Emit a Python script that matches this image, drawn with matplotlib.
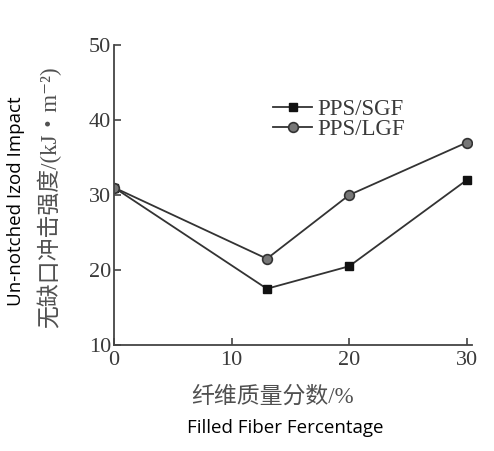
import matplotlib
matplotlib.use("Agg")
import matplotlib.pyplot as plt

x = [0, 13, 20, 30]
sgf = [31, 17.5, 20.5, 32]
lgf = [31, 21.5, 30, 37]
series_names = ["PPS/SGF", "PPS/LGF"]
xticks = [0, 10, 20, 30]
yticks = [10, 20, 30, 40, 50]

serif = ["Liberation Serif", "Noto Sans CJK SC", "DejaVu Sans"]
txt = "#3a3a3a"

fig = plt.figure(figsize=(4.94, 4.51), dpi=100)
ax = fig.add_axes([114/494, 1-345/451, (471.5-114)/494, (345-45)/451])

ax.plot(x, sgf, color="#333333", lw=1.3, marker="s", ms=6, mfc="#111111", mec="#111111", label=series_names[0])
ax.plot(x, lgf, color="#333333", lw=1.3, marker="o", ms=7, mfc="#777777", mec="#333333", mew=1.2, label=series_names[1])

ax.set_xlim(0, 30.4)
ax.set_ylim(10, 50)
ax.set_xticks(xticks)
ax.set_yticks(yticks)
for s in ["top", "right"]:
    ax.spines[s].set_visible(False)
for s in ["left", "bottom"]:
    ax.spines[s].set_color("#444444")
    ax.spines[s].set_linewidth(1.3)
ax.tick_params(direction="in", length=5, width=1.2, colors="#444444", labelsize=16, labelcolor=txt)
ax.tick_params(axis="y", pad=2)
ax.tick_params(axis="x", pad=4)
for lab in ax.get_xticklabels() + ax.get_yticklabels():
    lab.set_fontfamily(serif)

leg = ax.legend(loc="upper left", bbox_to_anchor=(0.40, 0.875), frameon=False,
                prop={"family": serif, "size": 16.5}, handlelength=1.7, handletextpad=0.25,
                labelspacing=-0.02, borderpad=0.2, labelcolor=txt)

fig.text(273/494, 1-397/451, "纤维质量分数/%", family=serif, fontsize=16.5, color="#505050",
         ha="center", va="center", fontweight="medium")
fig.text(285/494, 1-428/451, "Filled Fiber Fercentage", family=["Open Sans", "DejaVu Sans"], fontsize=13.5,
         color="black", ha="center", va="center")
fig.text(49/494, 1-197/451, "无缺口冲击强度/(kJ・m⁻²)", family=serif, fontsize=16.5, color="#505050",
         ha="center", va="center", rotation=90, fontweight="medium")
fig.text(16/494, 1-201/451, "Un-notched Izod Impact", family=["Open Sans", "DejaVu Sans"], fontsize=13.5,
         color="black", ha="center", va="center", rotation=90)

fig.savefig("out.png", dpi=100)
